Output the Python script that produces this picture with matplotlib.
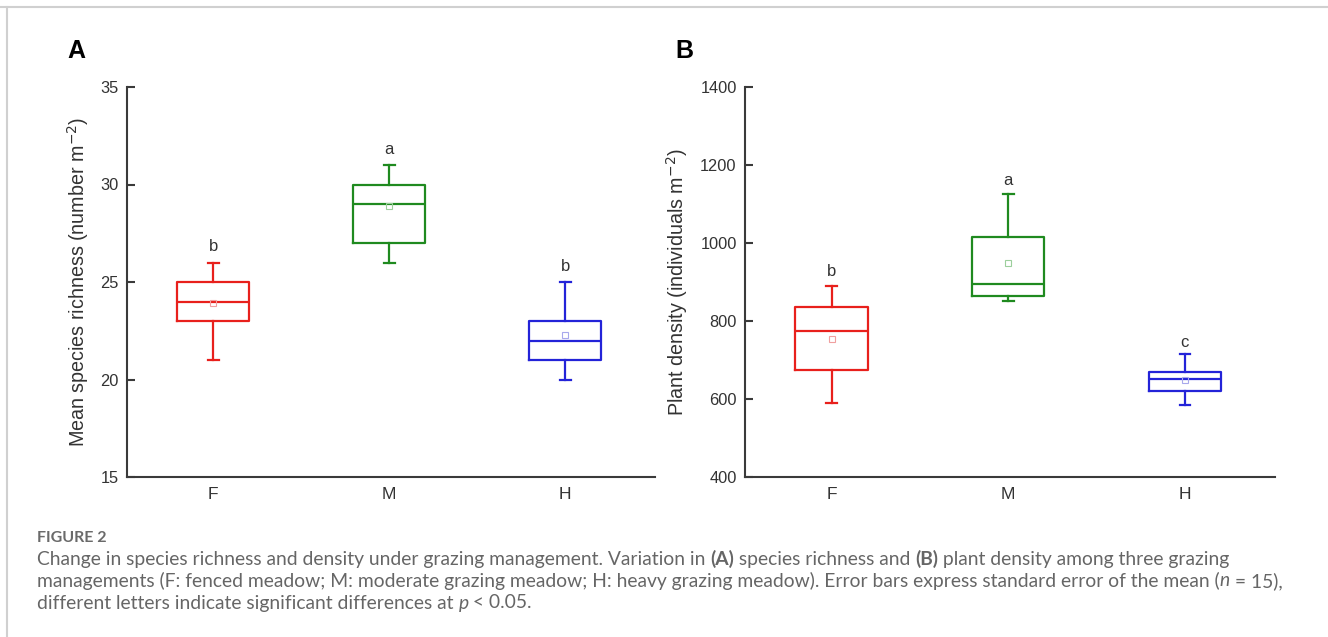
import matplotlib.pyplot as plt
from matplotlib.lines import Line2D

plt.rcParams["font.family"] = ["Liberation Sans", "DejaVu Sans"]

groups = ["F", "M", "H"]
colors = ["#e8201c", "#1f8a1f", "#2323d8"]
mean_colors = ["#f0a0a0", "#9ccf9c", "#a8a8ec"]

# panel A: species richness (number m-2)
rich_low = [21, 26, 20]
rich_q1 = [23, 27, 21]
rich_med = [24, 29, 22]
rich_q3 = [25, 30, 23]
rich_high = [26, 31, 25]
rich_mean = [23.9, 28.9, 22.3]
rich_letters = ["b", "a", "b"]
rich_letter_y = [26.8, 31.8, 25.8]

# panel B: plant density (individuals m-2)
dens_low = [590, 852, 585]
dens_q1 = [675, 865, 620]
dens_med = [775, 895, 652]
dens_q3 = [835, 1015, 670]
dens_high = [890, 1125, 715]
dens_mean = [755, 950, 648]
dens_letters = ["b", "a", "c"]
dens_letter_y = [928, 1159, 746]

W, H = 1328, 637
fig = plt.figure(figsize=(W / 100, H / 100), dpi=100)
axis_col = "#3a3a3a"
text_col = "#333333"


def draw_panel(ax, low, q1, med, q3, high, mean, letters, letter_y, ylim, yticks, ylabel):
    for i in range(len(groups)):
        stats = [{"whislo": low[i], "q1": q1[i], "med": med[i], "q3": q3[i],
                  "whishi": high[i], "mean": mean[i], "fliers": []}]
        c = colors[i]
        ax.bxp(stats, positions=[i], widths=0.41, showmeans=True, showfliers=False,
               capwidths=0.06, manage_ticks=False,
               boxprops=dict(color=c, linewidth=1.6),
               whiskerprops=dict(color=c, linewidth=1.6),
               capprops=dict(color=c, linewidth=1.6),
               medianprops=dict(color=c, linewidth=1.6),
               meanprops=dict(marker="s", markersize=4, markerfacecolor="none",
                              markeredgecolor=mean_colors[i], markeredgewidth=0.8))
        ax.text(i, letter_y[i], letters[i], ha="center", va="center",
                fontsize=12, color=text_col)
    ax.set_xlim(-0.49, 2.51)
    ax.set_ylim(*ylim)
    ax.set_yticks(yticks)
    ax.set_xticks(range(len(groups)))
    ax.set_xticklabels(groups)
    ax.tick_params(axis="y", direction="in", length=6, width=1.5, color=axis_col,
                   labelsize=11.8, labelcolor=text_col, pad=6)
    ax.tick_params(axis="x", length=0, labelsize=12.5, labelcolor=text_col, pad=7)
    for s in ["top", "right"]:
        ax.spines[s].set_visible(False)
    for s in ["left", "bottom"]:
        ax.spines[s].set_color(axis_col)
        ax.spines[s].set_linewidth(1.5)
    ax.set_ylabel(ylabel, fontsize=14.2, color=text_col, labelpad=7)


axA = fig.add_axes([127 / W, 1 - 477 / H, 528 / W, 390 / H])
draw_panel(axA, rich_low, rich_q1, rich_med, rich_q3, rich_high, rich_mean,
           rich_letters, rich_letter_y, (15, 35), [15, 20, 25, 30, 35],
           "Mean species richness (number m$^{-2}$)")

axB = fig.add_axes([745 / W, 1 - 477 / H, 530 / W, 390 / H])
draw_panel(axB, dens_low, dens_q1, dens_med, dens_q3, dens_high, dens_mean,
           dens_letters, dens_letter_y, (400, 1400), [400, 600, 800, 1000, 1200, 1400],
           "Plant density (individuals m$^{-2}$)")

fig.text(67 / W, 1 - 51 / H, "A", fontsize=18, fontweight="bold", va="center", ha="left")
fig.text(675 / W, 1 - 51 / H, "B", fontsize=18, fontweight="bold", va="center", ha="left")

# page frame lines (top and left)
fig.add_artist(Line2D([0, 1], [1 - 7 / H, 1 - 7 / H], color="#d0d0d0", linewidth=1.5))
fig.add_artist(Line2D([7 / W, 7 / W], [0, 1 - 7 / H], color="#d0d0d0", linewidth=1.5))

# caption with mixed styles
cap_font = ["Lato", "DejaVu Sans"]
cap_col = "#666666"
cap_size = 13.9
fig.text(37 / W, 1 - 538 / H, "FIGURE 2", fontsize=11.5, fontweight="bold",
         color="#6a6a6a", family=cap_font, va="center")

caption_lines = [
    [("Change in species richness and density under grazing management. Variation in ", {}),
     ("(A)", {"fontweight": "bold"}),
     (" species richness and ", {}),
     ("(B)", {"fontweight": "bold"}),
     (" plant density among three grazing", {})],
    [("managements (F: fenced meadow; M: moderate grazing meadow; H: heavy grazing meadow). "
      "Error bars express standard error of the mean (", {}),
     ("n", {"style": "italic"}),
     (" = 15),", {})],
    [("different letters indicate significant differences at ", {}),
     ("p", {"style": "italic"}),
     (" < 0.05.", {})],
]
line_y = [559, 581, 603]

fig.canvas.draw()
renderer = fig.canvas.get_renderer()
for segs, yy in zip(caption_lines, line_y):
    x = 37.0
    for txt, kw in segs:
        t = fig.text(x / W, 1 - yy / H, txt, fontsize=cap_size, color=cap_col,
                     family=cap_font, va="center", ha="left", **kw)
        bb = t.get_window_extent(renderer=renderer)
        x += bb.width

fig.savefig("out.png", dpi=100)
